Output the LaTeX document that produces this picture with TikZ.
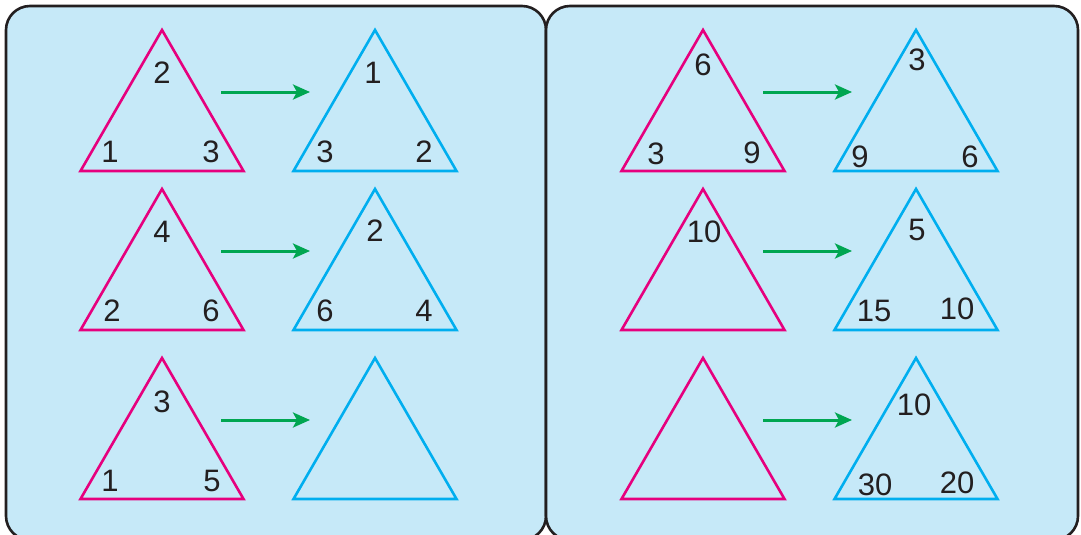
\documentclass[tikz,border=0pt]{standalone}
\usepackage{fontspec}
\setmainfont{Liberation Sans}
\usetikzlibrary{arrows.meta}
\definecolor{panelfill}{HTML}{C6E9F8}
\definecolor{panelline}{HTML}{231F20}
\definecolor{tripink}{HTML}{E6007E}
\definecolor{triblue}{HTML}{00AEEF}
\definecolor{arrgreen}{HTML}{00A651}
\definecolor{numcol}{HTML}{231F20}
\newcommand\mytri[4]{%
  \coordinate (#1top) at (#3,#4);
  \coordinate (#1left) at (#3-81.5,#4+141);
  \coordinate (#1right) at (#3+81.5,#4+141);
  \draw[tri,#2] (#1top) -- (#1left) -- (#1right) -- cycle;}
\begin{document}
\begin{tikzpicture}[x=1pt,y=-1pt,
  panel/.style={draw=panelline,fill=panelfill,line width=2.6pt,rounded corners=24pt},
  tri/.style={line width=2.6pt,line join=miter},
  num/.style={text=numcol,inner sep=0pt,font=\fontsize{31}{31}\selectfont},
  arr/.style={draw=arrgreen,line width=3pt,-{Stealth[length=17pt,width=15pt,inset=4pt]}}]
\useasboundingbox (0,0) rectangle (1081,535);
\begin{scope}
\clip (0,0) rectangle (1081,535);
\draw[panel] (6,6) rectangle (546,540);
\draw[panel] (546,6) rectangle (1078,540);
\end{scope}
% left column
\mytri{a}{tripink}{162}{30}
\mytri{b}{triblue}{375}{30}
\mytri{c}{tripink}{162}{189}
\mytri{d}{triblue}{375}{189}
\mytri{e}{tripink}{162}{358}
\mytri{f}{triblue}{375}{358}
% right column
\mytri{g}{tripink}{703}{30}
\mytri{h}{triblue}{916}{30}
\mytri{i}{tripink}{703}{189}
\mytri{j}{triblue}{916}{189}
\mytri{k}{tripink}{703}{358}
\mytri{l}{triblue}{916}{358}
% arrows
\foreach \r/\y in {1/92,2/251,3/420}{
  \coordinate (ls\r) at (221,\y);
  \coordinate (le\r) at (310,\y);
  \coordinate (rs\r) at (763,\y);
  \coordinate (re\r) at (852,\y);
  \draw[arr] (ls\r) -- (le\r);
  \draw[arr] (rs\r) -- (re\r);
}
% numbers left
\node[num] (a1) at (162,73) {2};
\node[num] (a2) at (110,152) {1};
\node[num] (a3) at (211,152) {3};
\node[num] (b1) at (373,73) {1};
\node[num] (b2) at (325,152) {3};
\node[num] (b3) at (424,152) {2};
\node[num] (c1) at (162,232) {4};
\node[num] (c2) at (112,311) {2};
\node[num] (c3) at (211,311) {6};
\node[num] (d1) at (375,231) {2};
\node[num] (d2) at (325,311) {6};
\node[num] (d3) at (424,311) {4};
\node[num] (e1) at (162,402) {3};
\node[num] (e2) at (110,481) {1};
\node[num] (e3) at (212,481) {5};
% numbers right
\node[num] (g1) at (703,65) {6};
\node[num] (g2) at (656,154) {3};
\node[num] (g3) at (752,153) {9};
\node[num] (h1) at (917,60) {3};
\node[num] (h2) at (860,157) {9};
\node[num] (h3) at (970,157) {6};
\node[num] (i1) at (704,232) {10};
\node[num] (j1) at (917,230) {5};
\node[num] (j2) at (874,311) {15};
\node[num] (j3) at (957,309) {10};
\node[num] (l1) at (914,405) {10};
\node[num] (l2) at (875,485) {30};
\node[num] (l3) at (957,483) {20};
\end{tikzpicture}
\end{document}
